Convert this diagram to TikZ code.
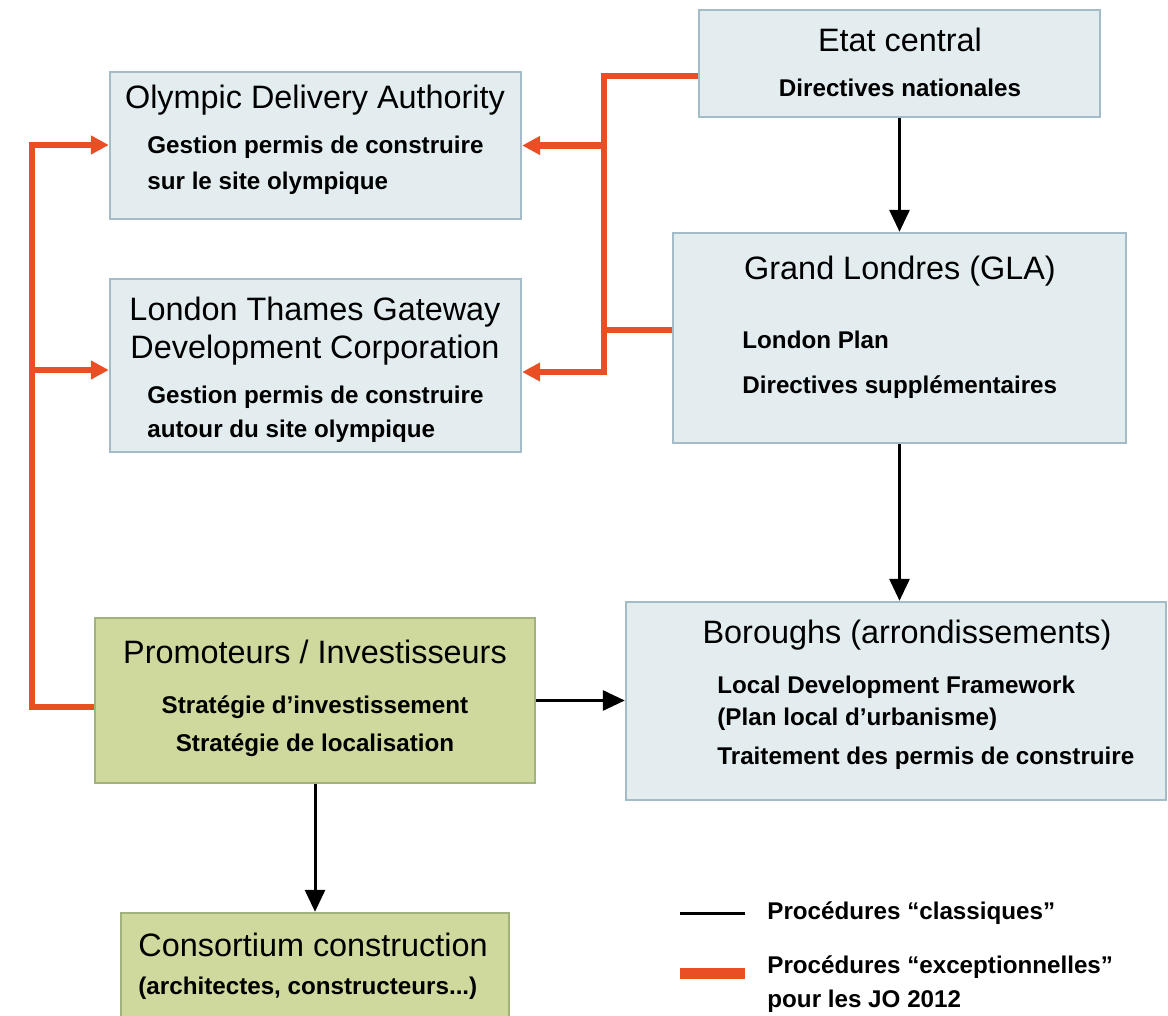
\documentclass[tikz,border=0pt]{standalone}
\usepackage{fontspec}
\setmainfont{Liberation Sans}
\usetikzlibrary{arrows.meta,fit}

\definecolor{boxblue}{HTML}{E3EDF0}
\definecolor{edgeblue}{HTML}{A3BCC7}
\definecolor{boxgreen}{HTML}{CFD99D}
\definecolor{edgegreen}{HTML}{A2B27F}
\definecolor{jorange}{HTML}{E94E24}

\begin{document}
\begin{tikzpicture}[x=0.5pt,y=-0.5pt,
  bluebox/.style={draw=edgeblue,fill=boxblue,line width=1.2pt,inner sep=0pt},
  greenbox/.style={draw=edgegreen,fill=boxgreen,line width=1.2pt,inner sep=0pt},
  title/.style={inner sep=0pt,font=\fontsize{16.2}{19}\selectfont},
  detail/.style={inner sep=0pt,font=\fontsize{12.1}{14}\selectfont\bfseries},
  cls/.style={line width=1.5pt,-{Triangle[length=11pt,width=10pt]}},
  exc/.style={jorange,line width=3.2pt,line join=miter},
  excarrow/.style={exc,-{Triangle[length=9pt,width=9pt]}}]

\useasboundingbox (0,0) rectangle (1168,1016);

% ------------------------------------------------------------------
% Boxes
% ------------------------------------------------------------------
\node[bluebox,fit={(699,10) (1100,117)}] (etat) {};
\node[bluebox,fit={(110,72) (521,219)}] (oda) {};
\node[bluebox,fit={(110,279) (521,452)}] (ltgdc) {};
\node[bluebox,fit={(673,233) (1126,443)}] (gla) {};
\node[greenbox,fit={(95,618) (535,783)}] (promo) {};
\node[bluebox,fit={(626,602) (1166,800)}] (borough) {};
\node[greenbox,fit={(121,913) (509,1030)}] (consort) {};

% ------------------------------------------------------------------
% Texts in the boxes
% ------------------------------------------------------------------
\node[title] (etat-t) at (900,40) {Etat central};
\node[detail] (etat-a) at (900,88) {Directives nationales};

\node[title] (oda-t) at (315,100) {Olympic Delivery Authority};
\node[detail,anchor=west] (oda-a) at (147,147) {Gestion permis de construire};
\node[detail,anchor=west] (oda-b) at (147,183) {sur le site olympique};

\node[title] (ltgdc-t) at (315,312) {London Thames Gateway};
\node[title] (ltgdc-u) at (315,350) {Development Corporation};
\node[detail,anchor=west] (ltgdc-a) at (147,397) {Gestion permis de construire};
\node[detail,anchor=west] (ltgdc-b) at (147,431) {autour du site olympique};

\node[title] (gla-t) at (900,271) {Grand Londres (GLA)};
\node[detail,anchor=west] (gla-a) at (742,340) {London Plan};
\node[detail,anchor=west] (gla-b) at (742,387) {Directives supplémentaires};

\node[title] (promo-t) at (315,652) {Promoteurs / Investisseurs};
\node[detail] (promo-a) at (315,707) {Stratégie d'investissement};
\node[detail] (promo-b) at (315,745) {Stratégie de localisation};

\node[title] (borough-t) at (907,635) {Boroughs (arrondissements)};
\node[detail,anchor=west] (borough-a) at (717,687) {Local Development Framework};
\node[detail,anchor=west] (borough-b) at (717,719) {(Plan local d'urbanisme)};
\node[detail,anchor=west] (borough-c) at (717,758) {Traitement des permis de construire};

\node[title,anchor=west] (consort-t) at (138,945) {Consortium construction};
\node[detail,anchor=west] (consort-a) at (138,988) {(architectes, constructeurs...)};

% ------------------------------------------------------------------
% Classical procedures (black)
% ------------------------------------------------------------------
\draw[cls] (etat.south) -- (gla.north);
\draw[cls] (gla.south) -- (gla.south |- borough.north);
\draw[cls] (promo.east) -- (borough.west |- promo.east);
\draw[cls] (promo.south) -- (consort.north);

% ------------------------------------------------------------------
% Exceptional procedures (orange)
% ------------------------------------------------------------------
\coordinate (rtop) at (604,76);
\coordinate (rgla) at (604,330);
\coordinate (rbot) at (604,372);
\draw[excarrow] (etat.west |- rtop) -- (rtop) -- (rbot) -- (ltgdc.east |- rbot);
\draw[excarrow] (oda.east -| rtop) -- (oda.east);
\draw[exc] (gla.west |- rgla) -- (rgla);

\coordinate (ltop) at (32,145);
\coordinate (lmid) at (32,370);
\coordinate (lbot) at (32,707);
\draw[excarrow] (promo.west |- lbot) -- (lbot) -- (ltop) -- (oda.west |- ltop);
\draw[excarrow] (lmid) -- (ltgdc.west |- lmid);

% ------------------------------------------------------------------
% Legend
% ------------------------------------------------------------------
\coordinate (k1a) at (680,913);
\coordinate (k1b) at (745,913);
\coordinate (k2a) at (680,973);
\coordinate (k2b) at (745,973);
\draw[line width=1.5pt] (k1a) -- (k1b);
\draw[jorange,line width=5.5pt] (k2a) -- (k2b);
\node[detail,anchor=west] (key-a) at (767,913) {Procédures “classiques”};
\node[detail,anchor=west] (key-b) at (767,967) {Procédures “exceptionnelles”};
\node[detail,anchor=west] (key-c) at (767,1001) {pour les JO 2012};

\end{tikzpicture}
\end{document}
